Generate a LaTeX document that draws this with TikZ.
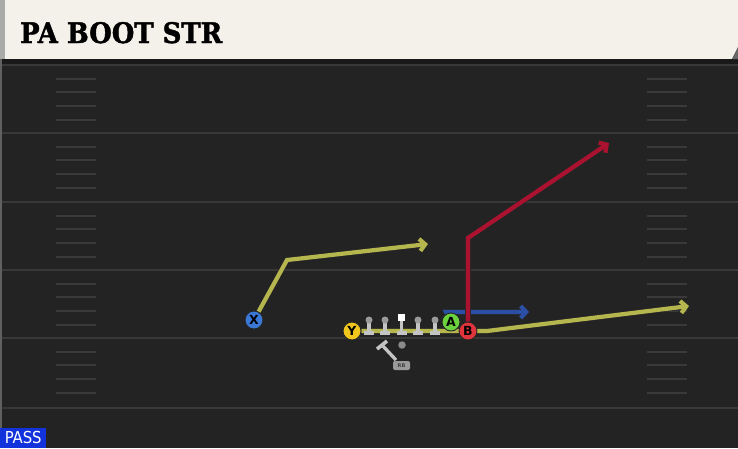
\documentclass[tikz,border=0pt]{standalone}
\usepackage{graphicx}
\usepackage{fontspec}
\newfontfamily\titlefont{DejaVu Serif}[BoldFeatures={FakeBold=1.6}]
\newfontfamily\letterfont{DejaVu Sans}
\newfontfamily\passfont{DejaVu Sans Condensed}
\usetikzlibrary{arrows.meta}

\definecolor{fieldbg}{HTML}{232323}
\definecolor{yardgray}{HTML}{383838}
\definecolor{hashgray}{HTML}{3A3A3A}
\definecolor{headcream}{HTML}{F4F1EA}
\definecolor{headgray}{HTML}{A8ABA8}
\definecolor{routeyellow}{HTML}{B6B64E}
\definecolor{routered}{HTML}{AA1230}
\definecolor{routeblue}{HTML}{2A4FA4}
\definecolor{xblue}{HTML}{3A78D6}
\definecolor{yyellow}{HTML}{F1C71E}
\definecolor{agreen}{HTML}{6AD23E}
\definecolor{bred}{HTML}{E2343C}
\definecolor{linegray}{HTML}{C4C4C4}
\definecolor{headdark}{HTML}{9A9A9A}
\definecolor{passblue}{HTML}{1232DC}

\pgfdeclarelayer{field}
\pgfdeclarelayer{routes}
\pgfsetlayers{field,routes,main}

\tikzset{
	player/.style={circle, draw=black!85, line width=0.9pt, minimum size=18pt, inner sep=0pt,
		font=\letterfont\bfseries\fontsize{12.5}{12.5}\selectfont},
	route/.style={line width=4.2pt, -{Straight Barb[length=5.5pt,width=12pt]},
		preaction={draw=black!85, line width=5.6pt}},
	hash/.style={draw=hashgray, line width=2pt},
	olbody/.style={draw=linegray, line width=3.3pt},
	olbase/.style={draw=linegray, line width=4pt},
	olhead/.style={circle, fill=headdark, minimum size=7pt, inner sep=0pt}
}

\begin{document}
\begin{tikzpicture}[x=1pt, y=-1pt]
	\useasboundingbox (0,0) rectangle (738,448);
	
	\begin{pgfonlayer}{field}
		\fill[fieldbg] (0,0) rectangle (738,448);
		\fill[headcream] (5,0) -- (738,0) -- (738,47) -- (732,59) -- (5,59) -- cycle;
		\fill[headgray] (0,0) rectangle (5,59);
		\fill[black!90] (0,59) rectangle (738,64);
		\fill[black!60] (738,47) -- (738,59) -- (732,59) -- cycle;
		\fill[yardgray!80] (0,59) rectangle (2,448);
		\foreach \y in {65,133,202,270,338,408}
			\draw[yardgray, line width=2pt] (2,\y) -- (738,\y);
		\foreach \y in {65,133,202,270,338}
			\foreach \k in {1,...,4} {
				\draw[hash] (56,\y+\k*13.7) -- (96,\y+\k*13.7);
				\draw[hash] (647,\y+\k*13.7) -- (687,\y+\k*13.7);
			}
	\end{pgfonlayer}
	
	\node[anchor=base west, inner sep=0pt] (title) at (20,43)
		{\resizebox{202pt}{21pt}{\titlefont\bfseries PA BOOT STR}};
	\node[fill=passblue, text=white, anchor=south west, minimum width=46pt, minimum height=20pt,
		inner sep=0pt, font=\passfont\fontsize{16.5}{16.5}\selectfont] (pass) at (0,448) {PASS};
	
	% line
	\foreach \x [count=\i] in {369,385,418,435} {
		\draw[olbody] (\x,321) -- (\x,332);
		\draw[olbase] (\x-5,333) -- (\x+5,333);
		\node[olhead] (ol\i) at (\x,320) {};
	}
	\draw[olbody] (401.5,321) -- (401.5,332);
	\draw[olbase] (396.5,333) -- (406.5,333);
	\node[fill=white, minimum size=7pt, inner sep=0pt] (C) at (401.5,317.5) {};
	
	% back
	\draw[olbody] (396,360) -- (382,345);
	\draw[olbody, line width=3.6pt] (377,349) -- (387,341);
	\node[circle, fill=headdark!90!black, minimum size=7.5pt, inner sep=0pt] (rbdot) at (402,345) {};
	\node[fill=headdark, rounded corners=2pt, minimum width=17pt, minimum height=9pt, inner sep=0pt,
		text=black!75, font=\letterfont\bfseries\fontsize{5}{5}\selectfont] (RB) at (401.5,365.5) {RB};
	
	% receivers
	\node[player, fill=xblue] (X) at (254,320) {X};
	\node[player, fill=yyellow] (Y) at (352,331) {Y};
	\node[player, fill=agreen] (A) at (451,322) {A};
	\node[player, fill=bred] (B) at (468,331) {B};
	
	\coordinate (xbend) at (287,260);
	\coordinate (xtip) at (428,244);
	\coordinate (ybend) at (487,331);
	\coordinate (ytip) at (689,306);
	\coordinate (abend) at (446,312);
	\coordinate (atip) at (529,312);
	\coordinate (bbend) at (468,238);
	\coordinate (btip) at (609,143);
	
	\begin{pgfonlayer}{routes}
		\draw[route, routeyellow] (X) -- (xbend) -- (xtip);
		\draw[route, routeyellow] (Y) -- (ybend) -- (ytip);
		\draw[route, routeblue] (A) -- (abend) -- (atip);
		\draw[route, routered] (B) -- (bbend) -- (btip);
	\end{pgfonlayer}
\end{tikzpicture}
\end{document}
